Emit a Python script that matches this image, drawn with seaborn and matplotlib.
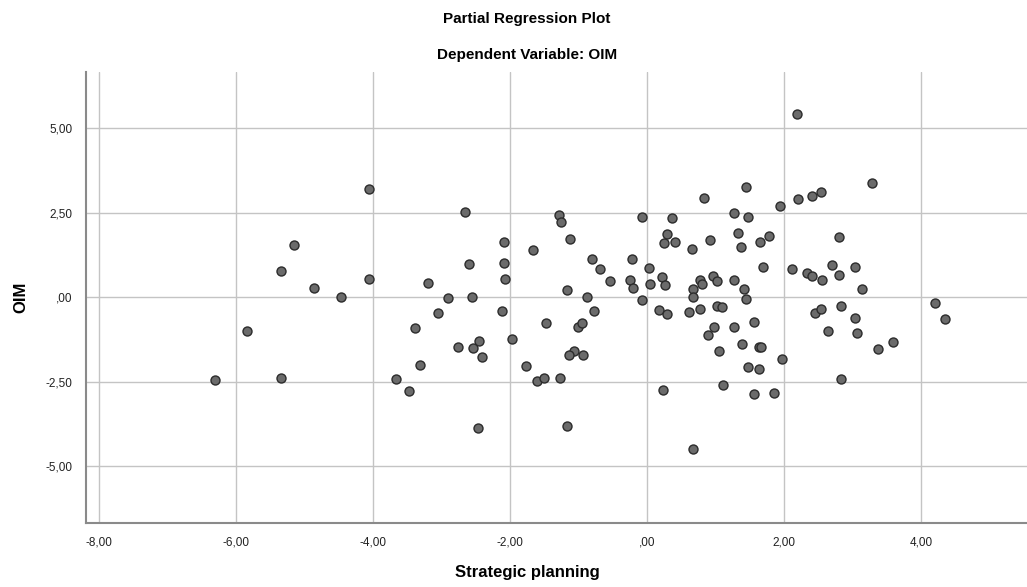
import matplotlib
matplotlib.use("Agg")
import matplotlib.pyplot as plt
import seaborn as sns
import pandas as pd

x_vals = [
    -4.06, -5.16, -5.34, -4.86, -4.47, -4.06, -5.84, -6.31, -5.35,
    -2.66, -1.28, -1.25, -0.07, 0.37, -1.13, -2.08, -1.67, 0.29, 0.25, 0.41,
    -2.60, -2.08, -0.80, -0.22, -0.69, 0.03, -2.07, -3.19, -0.54, -0.25, -0.21,
    0.04, 0.22, 0.26, -1.17, -2.90, -2.56, -0.88, -0.07,
    0.17, 0.29, -3.05, -2.11, -0.77, -3.39, -1.47, -1.00, -0.95, -2.76, -2.54,
    -2.45, -2.41, -1.97, -3.31, -1.07, -1.14, -0.93, -1.77, -3.66, -3.47, -1.60,
    -1.50, -1.27, 0.24, -2.46, -1.17,
    2.19, 3.28, 1.44, 2.54, 2.41, 2.20, 0.83, 1.94, 1.27, 1.48, 1.33, 2.80,
    0.92, 1.65, 1.78, 1.38, 0.66, 1.70, 2.12, 2.34, 2.41, 2.70, 2.81, 3.04,
    2.55, 3.14, 0.77, 0.80, 0.96, 1.03, 1.27, 0.68, 0.68, 1.42, 1.44,
    4.20, 4.35, 0.61, 0.78, 1.03, 1.09, 0.98, 0.89, 1.27, 1.57, 1.39, 1.06,
    1.64, 1.66, 1.97, 1.47, 1.63, 1.11, 1.57, 1.85, 0.68, 2.45, 2.54, 2.84,
    3.04, 2.64, 3.07, 3.38, 3.59, 2.84,
]
y_vals = [
    3.21, 1.55, 0.78, 0.27, 0.02, 0.53, -1.00, -2.46, -2.39,
    2.52, 2.43, 2.24, 2.38, 2.36, 1.72, 1.63, 1.40, 1.88, 1.62, 1.65,
    0.99, 1.01, 1.13, 1.12, 0.85, 0.86, 0.54, 0.42, 0.47, 0.50, 0.27,
    0.39, 0.60, 0.36, 0.22, -0.03, 0.00, 0.01, -0.08,
    -0.38, -0.48, -0.47, -0.40, -0.41, -0.90, -0.76, -0.88, -0.75, -1.46, -1.51,
    -1.28, -1.78, -1.24, -1.99, -1.59, -1.72, -1.70, -2.04, -2.42, -2.76, -2.49,
    -2.39, -2.39, -2.74, -3.88, -3.82,
    5.42, 3.38, 3.27, 3.12, 3.01, 2.92, 2.94, 2.70, 2.50, 2.38, 1.89, 1.78,
    1.69, 1.65, 1.82, 1.49, 1.42, 0.90, 0.84, 0.73, 0.64, 0.96, 0.66, 0.89,
    0.51, 0.25, 0.52, 0.39, 0.63, 0.48, 0.50, 0.25, 0.02, 0.25, -0.05,
    -0.17, -0.64, -0.44, -0.35, -0.27, -0.29, -0.89, -1.11, -0.88, -0.74, -1.37, -1.59,
    -1.48, -1.46, -1.84, -2.05, -2.13, -2.59, -2.86, -2.82, -4.49, -0.45, -0.35, -0.26,
    -0.60, -1.00, -1.07, -1.52, -1.31, -2.43,
]

x_ticks = [-8, -6, -4, -2, 0, 2, 4]
x_tick_labels = ["-8,00", "-6,00", "-4,00", "-2,00", ",00", "2,00", "4,00"]
y_ticks = [-5, -2.5, 0, 2.5, 5]
y_tick_labels = ["-5,00", "-2,50", ",00", "2,50", "5,00"]

df = pd.DataFrame({"Strategic planning": x_vals, "OIM": y_vals})

sns.set_style("white")
plt.rcParams["font.family"] = ["Liberation Sans", "DejaVu Sans"]

fig = plt.figure(figsize=(10.27, 5.87), dpi=100)
ax = fig.add_axes([86 / 1027, (587 - 523) / 587, (1027 - 86) / 1027, (523 - 72) / 587])

sns.scatterplot(data=df, x="Strategic planning", y="OIM", ax=ax,
                s=42, color="#6b6b6b", edgecolor="#2b2b2b", linewidth=1.0,
                zorder=3)

ax.set_xlim(-8.19, 5.55)
ax.set_ylim(-6.68, 6.67)
ax.set_xticks(x_ticks)
ax.set_xticklabels(x_tick_labels)
ax.set_yticks(y_ticks)
ax.set_yticklabels(y_tick_labels)
ax.tick_params(axis="both", length=0, labelsize=8.5, labelcolor="#222222", pad=10)

ax.grid(True, color="#c4c4c4", linewidth=1.0)
ax.set_axisbelow(True)
for side in ["top", "right"]:
    ax.spines[side].set_visible(False)
for side in ["left", "bottom"]:
    ax.spines[side].set_color("#8a8a8a")
    ax.spines[side].set_linewidth(1.5)

ax.set_xlabel("Strategic planning", fontsize=12, fontweight="bold", color="black")
ax.set_ylabel("OIM", fontsize=12, fontweight="bold", color="black")
ax.xaxis.set_label_coords((527 - 86) / 941, (523 - 573) / 451)
ax.yaxis.set_label_coords((21 - 86) / 941, 0.5)
ax.xaxis.label.set_va("center")
ax.yaxis.label.set_va("center")

fig.text(527 / 1027, 1 - 19 / 587, "Partial Regression Plot", ha="center", va="center",
         fontsize=11, fontweight="bold", color="black")
fig.text(527 / 1027, 1 - 55 / 587, "Dependent Variable: OIM", ha="center", va="center",
         fontsize=11, fontweight="bold", color="black")

fig.savefig("out.png", dpi=100)
